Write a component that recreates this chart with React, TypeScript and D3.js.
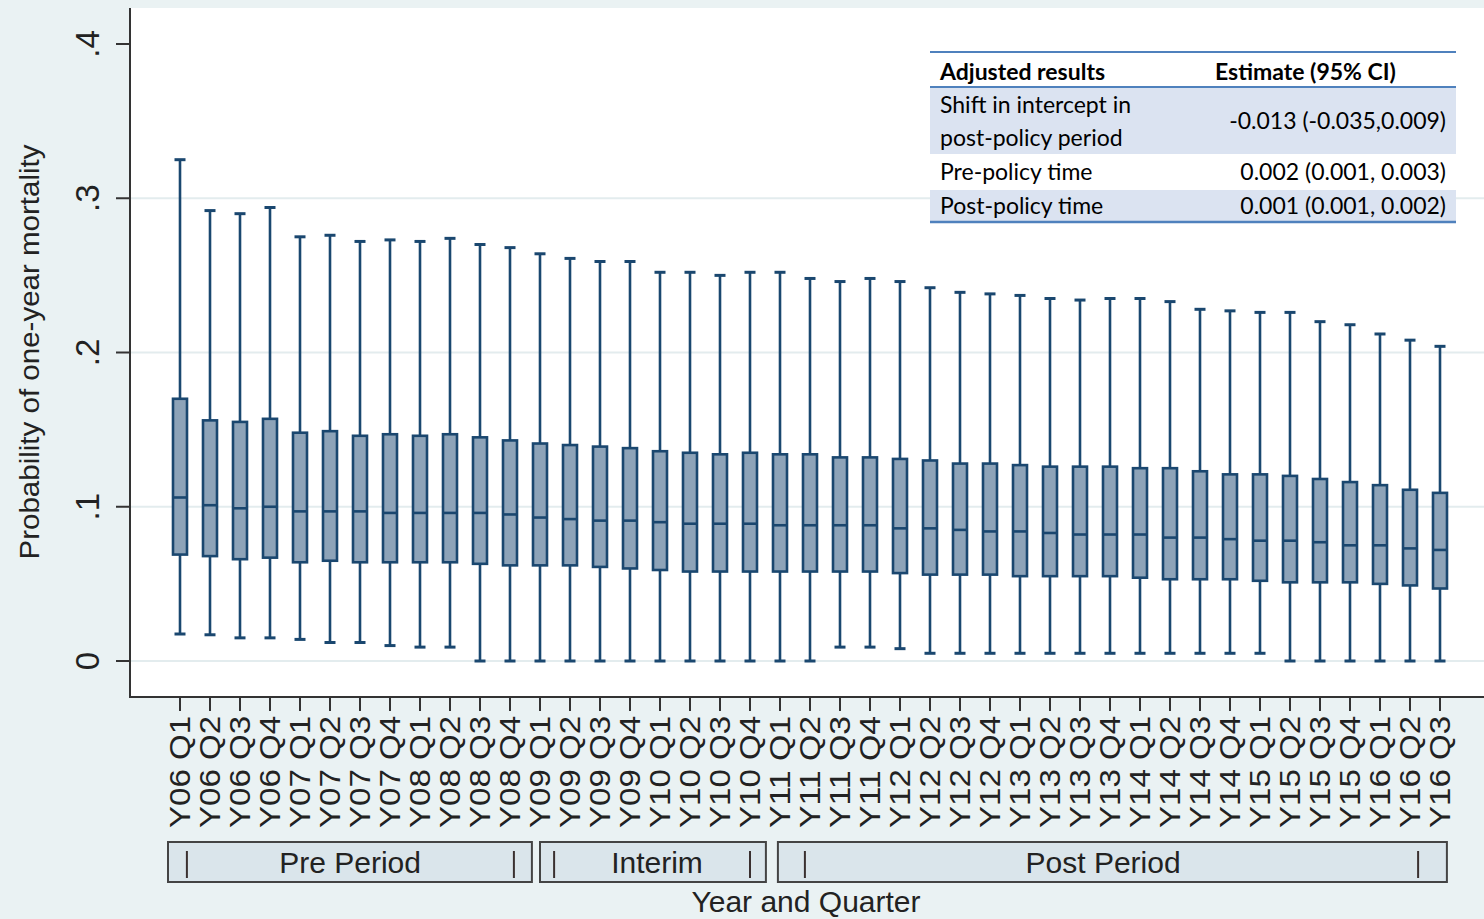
import React from 'react';
import * as d3 from 'd3';

// quarter labels along the x axis
const quarterLabels = [
  'Y06 Q1', 'Y06 Q2', 'Y06 Q3', 'Y06 Q4',
  'Y07 Q1', 'Y07 Q2', 'Y07 Q3', 'Y07 Q4',
  'Y08 Q1', 'Y08 Q2', 'Y08 Q3', 'Y08 Q4',
  'Y09 Q1', 'Y09 Q2', 'Y09 Q3', 'Y09 Q4',
  'Y10 Q1', 'Y10 Q2', 'Y10 Q3', 'Y10 Q4',
  'Y11 Q1', 'Y11 Q2', 'Y11 Q3', 'Y11 Q4',
  'Y12 Q1', 'Y12 Q2', 'Y12 Q3', 'Y12 Q4',
  'Y13 Q1', 'Y13 Q2', 'Y13 Q3', 'Y13 Q4',
  'Y14 Q1', 'Y14 Q2', 'Y14 Q3', 'Y14 Q4',
  'Y15 Q1', 'Y15 Q2', 'Y15 Q3', 'Y15 Q4',
  'Y16 Q1', 'Y16 Q2', 'Y16 Q3',
];

// box plot statistics
const whiskerHigh = [
  0.325, 0.292, 0.290, 0.294, 0.275, 0.276, 0.272, 0.273, 0.272, 0.274, 0.270,
  0.268, 0.264, 0.261, 0.259, 0.259, 0.252, 0.252, 0.250, 0.252, 0.252, 0.248,
  0.246, 0.248, 0.246, 0.242, 0.239, 0.238, 0.237, 0.235, 0.234, 0.235, 0.235,
  0.233, 0.228, 0.227, 0.226, 0.226, 0.220, 0.218, 0.212, 0.208, 0.204,
];
const q3 = [
  0.170, 0.156, 0.155, 0.157, 0.148, 0.149, 0.146, 0.147, 0.146, 0.147, 0.145,
  0.143, 0.141, 0.140, 0.139, 0.138, 0.136, 0.135, 0.134, 0.135, 0.134, 0.134,
  0.132, 0.132, 0.131, 0.130, 0.128, 0.128, 0.127, 0.126, 0.126, 0.126, 0.125,
  0.125, 0.123, 0.121, 0.121, 0.120, 0.118, 0.116, 0.114, 0.111, 0.109,
];
const medians = [
  0.106, 0.101, 0.099, 0.100, 0.097, 0.097, 0.097, 0.096, 0.096, 0.096, 0.096,
  0.095, 0.093, 0.092, 0.091, 0.091, 0.090, 0.089, 0.089, 0.089, 0.088, 0.088,
  0.088, 0.088, 0.086, 0.086, 0.085, 0.084, 0.084, 0.083, 0.082, 0.082, 0.082,
  0.080, 0.080, 0.079, 0.078, 0.078, 0.077, 0.075, 0.075, 0.073, 0.072,
];
const q1 = [
  0.069, 0.068, 0.066, 0.067, 0.064, 0.065, 0.064, 0.064, 0.064, 0.064, 0.063,
  0.062, 0.062, 0.062, 0.061, 0.060, 0.059, 0.058, 0.058, 0.058, 0.058, 0.058,
  0.058, 0.058, 0.057, 0.056, 0.056, 0.056, 0.055, 0.055, 0.055, 0.055, 0.054,
  0.053, 0.053, 0.053, 0.052, 0.051, 0.051, 0.051, 0.050, 0.049, 0.047,
];
const whiskerLow = [
  0.0175, 0.017, 0.015, 0.015, 0.014, 0.012, 0.012, 0.010, 0.009, 0.009, 0,
  0, 0, 0, 0, 0, 0, 0, 0, 0, 0, 0,
  0.009, 0.009, 0.008, 0.005, 0.005, 0.005, 0.005, 0.005, 0.005, 0.005, 0.005,
  0.005, 0.005, 0.005, 0.005, 0, 0, 0, 0, 0, 0,
];

const yTicks = [0, 0.1, 0.2, 0.3, 0.4];
const yTickLabels = ['0', '.1', '.2', '.3', '.4'];
const gridTicks = [0, 0.1, 0.2, 0.3];

// period brackets under the axis, in quarter-index units
const periods = [
  { label: 'Pre Period', from: -0.4, to: 11.73, labelAt: 5.67, marks: [0.23, 11.13] },
  { label: 'Interim', from: 12, to: 19.53, labelAt: 15.9, marks: [12.47, 19] },
  { label: 'Post Period', from: 19.93, to: 42.23, labelAt: 30.77, marks: [20.83, 41.27] },
];

const tableHeader = ['Adjusted results', 'Estimate (95% CI)'];
const tableTerms = [['Shift in intercept in', 'post-policy period'], ['Pre-policy time'], ['Post-policy time']];
const tableEstimates = ['-0.013 (-0.035,0.009)', '0.002 (0.001, 0.003)', '0.001 (0.001, 0.002)'];

const W = 1484;
const H = 919;
const NAVY = '#1a476f';
const BOXFILL = '#8da3b8';
const BG = '#eaf2f3';
const SANS = '"Liberation Sans", Arial, sans-serif';
const TABLE_FONT = 'Lato, "Open Sans", sans-serif';

export default function App() {
  const plot = { left: 130, right: W, top: 8, bottom: 697 };

  const x = d3.scalePoint<string>().domain(quarterLabels).range([180, 1440]);
  const xi = d3.scaleLinear().domain([0, quarterLabels.length - 1]).range([180, 1440]);
  const y = d3.scaleLinear().domain([0, 0.4]).range([661, 44]);

  const boxW = 14;
  const capW = 11;

  // table geometry
  const tX0 = 930;
  const tX1 = 1456;
  const rowTops = [87, 154, 190];
  const rowBottoms = [154, 190, 222];

  return (
    <svg
      width={W}
      height={H}
      style={{ position: 'absolute', left: 0, top: 0, display: 'block' }}
      fontFamily={SANS}
    >
      <rect x={0} y={0} width={W} height={H} fill={BG} />
      <rect
        x={plot.left}
        y={plot.top}
        width={plot.right - plot.left}
        height={plot.bottom - plot.top}
        fill="#fff"
      />

      {/* grid */}
      {gridTicks.map((t) => (
        <line
          key={`g${t}`}
          x1={plot.left}
          x2={plot.right}
          y1={y(t)}
          y2={y(t)}
          stroke="#e3ecee"
          strokeWidth={2}
        />
      ))}

      {/* boxes */}
      {quarterLabels.map((q, i) => {
        const cx = x(q) as number;
        return (
          <g key={q} stroke={NAVY} strokeWidth={2.6}>
            <line x1={cx} x2={cx} y1={y(whiskerHigh[i])} y2={y(q3[i])} />
            <line x1={cx} x2={cx} y1={y(q1[i])} y2={y(whiskerLow[i])} />
            <line
              x1={cx - capW / 2}
              x2={cx + capW / 2}
              y1={y(whiskerHigh[i])}
              y2={y(whiskerHigh[i])}
              strokeWidth={3}
            />
            <line
              x1={cx - capW / 2}
              x2={cx + capW / 2}
              y1={y(whiskerLow[i])}
              y2={y(whiskerLow[i])}
              strokeWidth={3}
            />
            <rect
              x={cx - boxW / 2}
              y={y(q3[i])}
              width={boxW}
              height={y(q1[i]) - y(q3[i])}
              fill={BOXFILL}
            />
            <line x1={cx - boxW / 2} x2={cx + boxW / 2} y1={y(medians[i])} y2={y(medians[i])} />
          </g>
        );
      })}

      {/* y axis */}
      <line x1={plot.left} x2={plot.left} y1={plot.top} y2={plot.bottom + 1} stroke="#333" strokeWidth={2} />
      {yTicks.map((t, i) => (
        <g key={`yt${t}`}>
          <line x1={116} x2={plot.left} y1={y(t)} y2={y(t)} stroke="#333" strokeWidth={2} />
          <text
            transform={`translate(87,${y(t)}) rotate(-90)`}
            textAnchor="middle"
            dy="0.36em"
            fontSize={33}
            fill="#222"
          >
            {yTickLabels[i]}
          </text>
        </g>
      ))}
      <text
        transform="translate(30,352) rotate(-90)"
        textAnchor="middle"
        dy="0.35em"
        fontSize={27}
        fill="#222"
        textLength={415}
        lengthAdjust="spacingAndGlyphs"
      >
        Probability of one-year mortality
      </text>

      {/* x axis */}
      <line x1={plot.left - 1} x2={plot.right} y1={plot.bottom} y2={plot.bottom} stroke="#333" strokeWidth={2} />
      {quarterLabels.map((q) => {
        const cx = x(q) as number;
        return (
          <g key={`xt${q}`}>
            <line x1={cx} x2={cx} y1={plot.bottom} y2={plot.bottom + 14} stroke="#333" strokeWidth={2} />
            <text
              transform={`translate(${cx},716) rotate(-90)`}
              textAnchor="end"
              dy="0.36em"
              fontSize={29}
              fill="#222"
              textLength={112}
              lengthAdjust="spacingAndGlyphs"
            >
              {q}
            </text>
          </g>
        );
      })}

      {/* period brackets */}
      {periods.map((p) => {
        const x0 = xi(p.from);
        const x1 = xi(p.to);
        return (
          <g key={p.label}>
            <rect x={x0} y={842} width={x1 - x0} height={40} fill="#dae5eb" stroke="#444" strokeWidth={2} />
            {p.marks.map((m) => (
              <line key={m} x1={xi(m)} x2={xi(m)} y1={851} y2={878} stroke="#3a3030" strokeWidth={2} />
            ))}
            <text x={xi(p.labelAt)} y={873} textAnchor="middle" fontSize={30} fill="#222">
              {p.label}
            </text>
          </g>
        );
      })}
      <text x={806} y={912} textAnchor="middle" fontSize={30} fill="#222">
        Year and Quarter
      </text>

      {/* results table */}
      <g fontFamily={TABLE_FONT} fontSize={23} fill="#000">
        {[0, 2].map((r) => (
          <rect key={`sh${r}`} x={tX0} y={rowTops[r]} width={tX1 - tX0} height={rowBottoms[r] - rowTops[r]} fill="#dbe3f1" />
        ))}
        <line x1={tX0} x2={tX1} y1={52} y2={52} stroke="#4f81bd" strokeWidth={2} />
        <line x1={tX0} x2={tX1} y1={87} y2={87} stroke="#4f81bd" strokeWidth={2} />
        <line x1={tX0} x2={tX1} y1={222} y2={222} stroke="#4f81bd" strokeWidth={2.5} />
        <text x={940} y={80} fontWeight="bold">{tableHeader[0]}</text>
        <text x={1215} y={80} fontWeight="bold">{tableHeader[1]}</text>
        {tableTerms.map((lines, r) => {
          const top = rowTops[r];
          const bottom = rowBottoms[r];
          const mid = (top + bottom) / 2;
          return (
            <g key={`row${r}`}>
              {lines.map((ln, k) => (
                <text key={ln} x={940} y={lines.length === 1 ? mid + 8 : top + 26 + k * 33}>
                  {ln}
                </text>
              ))}
              <text x={1446} y={mid + 8} textAnchor="end">
                {tableEstimates[r]}
              </text>
            </g>
          );
        })}
      </g>
    </svg>
  );
}
